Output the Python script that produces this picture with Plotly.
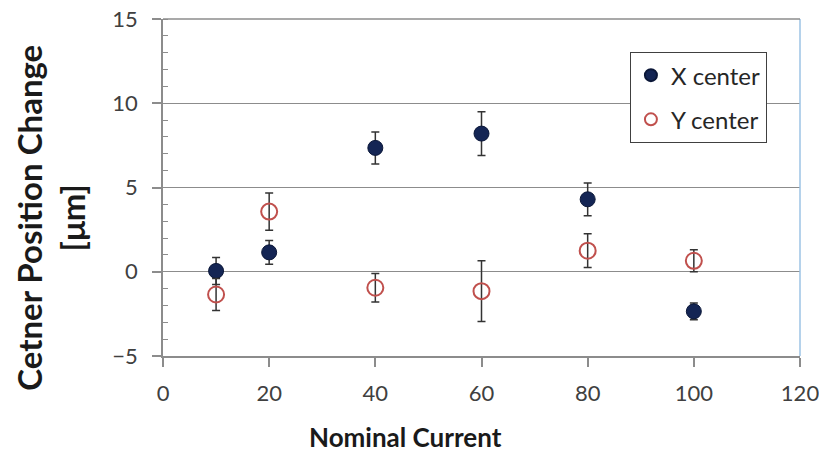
import plotly.graph_objects as go

current = [10, 20, 40, 60, 80, 100]
x_center = [0.05, 1.15, 7.35, 8.2, 4.3, -2.35]
x_err = [0.8, 0.7, 0.95, 1.3, 0.97, 0.5]
y_center = [-1.35, 3.57, -0.95, -1.15, 1.25, 0.65]
y_err = [0.95, 1.1, 0.85, 1.8, 1.0, 0.65]

FONT = "Lato"
# page body has an 8px default margin; compensate so the plot lands where it should
OFF = 8
fig = go.Figure()
fig.add_trace(go.Scatter(
    x=current, y=x_center, mode="markers", name="X center", legendgroup="a",
    marker=dict(size=15, color="#142554", line=dict(color="#0b1738", width=1)),
    error_y=dict(type="data", array=x_err, visible=True, color="#333333", thickness=1.5, width=4),
))
fig.add_trace(go.Scatter(
    x=current, y=y_center, mode="markers", name="Y center", legendgroup="b",
    marker=dict(size=16, color="rgba(255,255,255,0)", line=dict(color="#c0504d", width=2)),
    error_y=dict(type="data", array=y_err, visible=True, color="#333333", thickness=1.5, width=4),
))

fig.update_layout(
    width=827 - OFF, height=453 - OFF,
    margin=dict(l=162.5 - OFF, r=27, t=19 - OFF, b=97, autoexpand=False),
    paper_bgcolor="white", plot_bgcolor="white",
    font=dict(family=FONT, color="#404040", size=22),
    showlegend=True,
    legend=dict(x=0.733, y=0.902, xanchor="left", yanchor="top",
                bordercolor="#404040", borderwidth=1, bgcolor="white",
                font=dict(family=FONT, size=24, color="#262626"),
                tracegroupgap=10, itemsizing="constant"),
    xaxis=dict(range=[0, 120], dtick=20, showgrid=False, zeroline=False, automargin=False,
               showline=True, linecolor="#8c8c8c", linewidth=1.5,
               ticks="outside", ticklen=9, tickcolor="#8c8c8c", tickwidth=1.5,
               ticklabelstandoff=8, ticklabeloverflow="allow"),
    yaxis=dict(range=[-5, 15], dtick=5, showgrid=True, gridcolor="#8c8c8c", gridwidth=1.3,
               zeroline=False, showline=True, linecolor="#8c8c8c", linewidth=1.5, automargin=False,
               ticks="outside", ticklen=9, tickcolor="#8c8c8c", tickwidth=1.5,
               ticklabelstandoff=10, ticklabeloverflow="allow",
               minor=dict(dtick=1, ticks="inside", ticklen=5, tickcolor="#8c8c8c", tickwidth=1, showgrid=False)),
    annotations=[
        dict(text="<b>Cetner Position Change<br>[μm]</b>", xref="paper", yref="paper",
             x=-0.176, y=0.41, xanchor="center", yanchor="middle", textangle=-90,
             showarrow=False, font=dict(family=FONT, size=33, color="#1a1a1a")),
        dict(text="<b>Nominal Current</b>", xref="paper", yref="paper",
             x=0.380, y=-0.240, xanchor="center", yanchor="middle",
             showarrow=False, font=dict(family=FONT, size=26, color="#1a1a1a")),
    ],
    shapes=[dict(type="line", xref="paper", yref="paper", x0=1, x1=1, y0=0, y1=1,
                 line=dict(color="#9cc3e5", width=1.5)),
            dict(type="line", xref="paper", yref="paper", x0=0, x1=1, y0=1, y1=1,
                 line=dict(color="#8c8c8c", width=1.5))],
)

fig.write_html("out.html")
